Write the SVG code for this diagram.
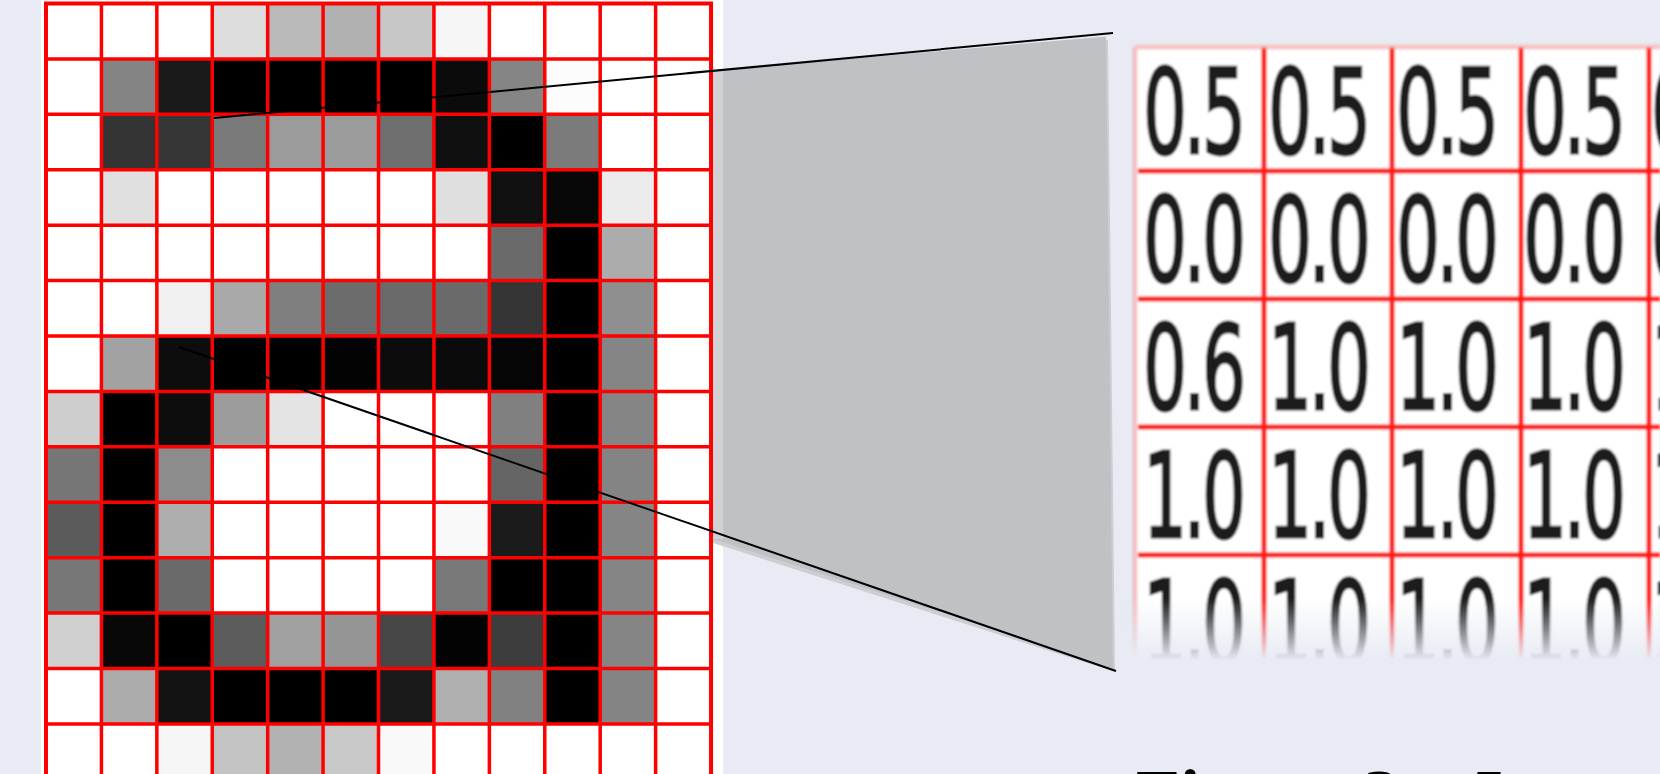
<svg xmlns="http://www.w3.org/2000/svg" width="1660" height="774" viewBox="0 0 1660 774">
<style>
.gl{stroke:#ff0000;stroke-width:3.5;fill:none}
.gb{stroke:#ff0000;stroke-width:4;fill:none}
.tl{stroke:#ff1c1c;stroke-width:5;fill:none}
.tf{stroke:#f4a0a0;stroke-width:5;fill:none;opacity:0.6}
.val{font-family:"DejaVu Sans","Liberation Sans",sans-serif;font-size:118px;letter-spacing:-6px;fill:#1a1a1a;stroke:#1a1a1a;stroke-width:3}
.edge{stroke:#000;stroke-width:2;fill:none}
.cap{font-family:"Liberation Serif","Times New Roman",serif;font-size:72px;font-weight:bold;fill:#000}
</style>
<defs>
<linearGradient id="fade" x1="0" y1="598" x2="0" y2="660" gradientUnits="userSpaceOnUse">
<stop offset="0" stop-color="#e8ebf3" stop-opacity="0"/>
<stop offset="1" stop-color="#e8ebf3" stop-opacity="1"/>
</linearGradient>
<filter id="soft" x="-5%" y="-5%" width="110%" height="110%"><feGaussianBlur stdDeviation="0.9"/></filter>
</defs>
<rect x="0" y="0" width="1660" height="774" fill="#e8ebf3"/>

<g id="pixel-grid">
<rect x="41" y="0" width="682" height="774" fill="#ffffff"/>
<g id="pixels">
<rect x="212.26" y="3.5" width="55.42" height="55.42" fill="#dcdcdc"/>
<rect x="267.68" y="3.5" width="55.42" height="55.42" fill="#b9b9b9"/>
<rect x="323.1" y="3.5" width="55.42" height="55.42" fill="#b1b1b1"/>
<rect x="378.52" y="3.5" width="55.42" height="55.42" fill="#c7c7c7"/>
<rect x="433.94" y="3.5" width="55.42" height="55.42" fill="#f6f6f6"/>

<rect x="101.42" y="58.92" width="55.42" height="55.42" fill="#848484"/>
<rect x="156.84" y="58.92" width="55.42" height="55.42" fill="#1a1a1a"/>
<rect x="212.26" y="58.92" width="55.42" height="55.42" fill="#000000"/>
<rect x="267.68" y="58.92" width="55.42" height="55.42" fill="#000000"/>
<rect x="323.1" y="58.92" width="55.42" height="55.42" fill="#000000"/>
<rect x="378.52" y="58.92" width="55.42" height="55.42" fill="#000000"/>
<rect x="433.94" y="58.92" width="55.42" height="55.42" fill="#0b0b0b"/>
<rect x="489.36" y="58.92" width="55.42" height="55.42" fill="#858585"/>
<rect x="544.78" y="58.92" width="55.42" height="55.42" fill="#fcfcfc"/>

<rect x="101.42" y="114.34" width="55.42" height="55.42" fill="#343434"/>
<rect x="156.84" y="114.34" width="55.42" height="55.42" fill="#363636"/>
<rect x="212.26" y="114.34" width="55.42" height="55.42" fill="#7a7a7a"/>
<rect x="267.68" y="114.34" width="55.42" height="55.42" fill="#9b9b9b"/>
<rect x="323.1" y="114.34" width="55.42" height="55.42" fill="#9b9b9b"/>
<rect x="378.52" y="114.34" width="55.42" height="55.42" fill="#6e6e6e"/>
<rect x="433.94" y="114.34" width="55.42" height="55.42" fill="#101010"/>
<rect x="489.36" y="114.34" width="55.42" height="55.42" fill="#000000"/>
<rect x="544.78" y="114.34" width="55.42" height="55.42" fill="#7b7b7b"/>

<rect x="101.42" y="169.76" width="55.42" height="55.42" fill="#e0e0e0"/>
<rect x="433.94" y="169.76" width="55.42" height="55.42" fill="#dfdfdf"/>
<rect x="489.36" y="169.76" width="55.42" height="55.42" fill="#111111"/>
<rect x="544.78" y="169.76" width="55.42" height="55.42" fill="#080808"/>
<rect x="600.2" y="169.76" width="55.42" height="55.42" fill="#ebebeb"/>

<rect x="489.36" y="225.18" width="55.42" height="55.42" fill="#6a6a6a"/>
<rect x="544.78" y="225.18" width="55.42" height="55.42" fill="#000000"/>
<rect x="600.2" y="225.18" width="55.42" height="55.42" fill="#acacac"/>

<rect x="156.84" y="280.6" width="55.42" height="55.42" fill="#f0f0f0"/>
<rect x="212.26" y="280.6" width="55.42" height="55.42" fill="#a9a9a9"/>
<rect x="267.68" y="280.6" width="55.42" height="55.42" fill="#7f7f7f"/>
<rect x="323.1" y="280.6" width="55.42" height="55.42" fill="#6c6c6c"/>
<rect x="378.52" y="280.6" width="55.42" height="55.42" fill="#6a6a6a"/>
<rect x="433.94" y="280.6" width="55.42" height="55.42" fill="#6a6a6a"/>
<rect x="489.36" y="280.6" width="55.42" height="55.42" fill="#353535"/>
<rect x="544.78" y="280.6" width="55.42" height="55.42" fill="#000000"/>
<rect x="600.2" y="280.6" width="55.42" height="55.42" fill="#8f8f8f"/>

<rect x="101.42" y="336.02" width="55.42" height="55.42" fill="#a2a2a2"/>
<rect x="156.84" y="336.02" width="55.42" height="55.42" fill="#0d0d0d"/>
<rect x="212.26" y="336.02" width="55.42" height="55.42" fill="#000000"/>
<rect x="267.68" y="336.02" width="55.42" height="55.42" fill="#000000"/>
<rect x="323.1" y="336.02" width="55.42" height="55.42" fill="#030303"/>
<rect x="378.52" y="336.02" width="55.42" height="55.42" fill="#0c0c0c"/>
<rect x="433.94" y="336.02" width="55.42" height="55.42" fill="#0b0b0b"/>
<rect x="489.36" y="336.02" width="55.42" height="55.42" fill="#050505"/>
<rect x="544.78" y="336.02" width="55.42" height="55.42" fill="#000000"/>
<rect x="600.2" y="336.02" width="55.42" height="55.42" fill="#858585"/>

<rect x="46" y="391.44" width="55.42" height="55.42" fill="#cecece"/>
<rect x="101.42" y="391.44" width="55.42" height="55.42" fill="#000000"/>
<rect x="156.84" y="391.44" width="55.42" height="55.42" fill="#0d0d0d"/>
<rect x="212.26" y="391.44" width="55.42" height="55.42" fill="#9c9c9c"/>
<rect x="267.68" y="391.44" width="55.42" height="55.42" fill="#e4e4e4"/>
<rect x="489.36" y="391.44" width="55.42" height="55.42" fill="#808080"/>
<rect x="544.78" y="391.44" width="55.42" height="55.42" fill="#000000"/>
<rect x="600.2" y="391.44" width="55.42" height="55.42" fill="#858585"/>

<rect x="46" y="446.86" width="55.42" height="55.42" fill="#767676"/>
<rect x="101.42" y="446.86" width="55.42" height="55.42" fill="#000000"/>
<rect x="156.84" y="446.86" width="55.42" height="55.42" fill="#8c8c8c"/>
<rect x="489.36" y="446.86" width="55.42" height="55.42" fill="#656565"/>
<rect x="544.78" y="446.86" width="55.42" height="55.42" fill="#000000"/>
<rect x="600.2" y="446.86" width="55.42" height="55.42" fill="#848484"/>

<rect x="46" y="502.28" width="55.42" height="55.42" fill="#5b5b5b"/>
<rect x="101.42" y="502.28" width="55.42" height="55.42" fill="#000000"/>
<rect x="156.84" y="502.28" width="55.42" height="55.42" fill="#aeaeae"/>
<rect x="433.94" y="502.28" width="55.42" height="55.42" fill="#f9f9f9"/>
<rect x="489.36" y="502.28" width="55.42" height="55.42" fill="#1b1b1b"/>
<rect x="544.78" y="502.28" width="55.42" height="55.42" fill="#000000"/>
<rect x="600.2" y="502.28" width="55.42" height="55.42" fill="#858585"/>

<rect x="46" y="557.7" width="55.42" height="55.42" fill="#777777"/>
<rect x="101.42" y="557.7" width="55.42" height="55.42" fill="#000000"/>
<rect x="156.84" y="557.7" width="55.42" height="55.42" fill="#6a6a6a"/>
<rect x="433.94" y="557.7" width="55.42" height="55.42" fill="#787878"/>
<rect x="489.36" y="557.7" width="55.42" height="55.42" fill="#000000"/>
<rect x="544.78" y="557.7" width="55.42" height="55.42" fill="#000000"/>
<rect x="600.2" y="557.7" width="55.42" height="55.42" fill="#858585"/>

<rect x="46" y="613.12" width="55.42" height="55.42" fill="#d0d0d0"/>
<rect x="101.42" y="613.12" width="55.42" height="55.42" fill="#080808"/>
<rect x="156.84" y="613.12" width="55.42" height="55.42" fill="#000000"/>
<rect x="212.26" y="613.12" width="55.42" height="55.42" fill="#5c5c5c"/>
<rect x="267.68" y="613.12" width="55.42" height="55.42" fill="#a0a0a0"/>
<rect x="323.1" y="613.12" width="55.42" height="55.42" fill="#959595"/>
<rect x="378.52" y="613.12" width="55.42" height="55.42" fill="#464646"/>
<rect x="433.94" y="613.12" width="55.42" height="55.42" fill="#030303"/>
<rect x="489.36" y="613.12" width="55.42" height="55.42" fill="#3d3d3d"/>
<rect x="544.78" y="613.12" width="55.42" height="55.42" fill="#000000"/>
<rect x="600.2" y="613.12" width="55.42" height="55.42" fill="#858585"/>

<rect x="101.42" y="668.54" width="55.42" height="55.42" fill="#acacac"/>
<rect x="156.84" y="668.54" width="55.42" height="55.42" fill="#131313"/>
<rect x="212.26" y="668.54" width="55.42" height="55.42" fill="#000000"/>
<rect x="267.68" y="668.54" width="55.42" height="55.42" fill="#000000"/>
<rect x="323.1" y="668.54" width="55.42" height="55.42" fill="#000000"/>
<rect x="378.52" y="668.54" width="55.42" height="55.42" fill="#1a1a1a"/>
<rect x="433.94" y="668.54" width="55.42" height="55.42" fill="#afafaf"/>
<rect x="489.36" y="668.54" width="55.42" height="55.42" fill="#818181"/>
<rect x="544.78" y="668.54" width="55.42" height="55.42" fill="#000000"/>
<rect x="600.2" y="668.54" width="55.42" height="55.42" fill="#848484"/>

<rect x="156.84" y="723.96" width="55.42" height="55.42" fill="#f6f6f6"/>
<rect x="212.26" y="723.96" width="55.42" height="55.42" fill="#c3c3c3"/>
<rect x="267.68" y="723.96" width="55.42" height="55.42" fill="#b2b2b2"/>
<rect x="323.1" y="723.96" width="55.42" height="55.42" fill="#c8c8c8"/>
<rect x="378.52" y="723.96" width="55.42" height="55.42" fill="#f9f9f9"/>
</g>
<g id="grid-lines">
<path class="gl" d="M101.42 3.5V774M156.84 3.5V774M212.26 3.5V774M267.68 3.5V774M323.1 3.5V774M378.52 3.5V774M433.94 3.5V774M489.36 3.5V774M544.78 3.5V774M600.2 3.5V774M655.62 3.5V774"/>
<path class="gl" d="M46 58.92H711.04M46 114.34H711.04M46 169.76H711.04M46 225.18H711.04M46 280.6H711.04M46 336.02H711.04M46 391.44H711.04M46 446.86H711.04M46 502.28H711.04M46 557.7H711.04M46 613.12H711.04M46 668.54H711.04M46 723.96H711.04"/>
<path class="gb" d="M46 774V3.5H711.04V774"/>
</g>
</g>

<g id="zoom-funnel">
<polygon points="713,74 1108,40 1115,672 713,543" fill="#cdced2"/>
<polygon points="713,70.7 1106,36.5 1113,668 713,539" fill="#c0c1c5"/>
<polygon points="713,70.7 723,69.8 723,539 713,539" fill="#d1d1d3"/>
</g>

<g id="value-table">
<g filter="url(#soft)">
<rect x="1135" y="45" width="525" height="620" fill="#ffffff"/>
<path class="tl" d="M1264 47V660M1392 47V660M1521 47V660M1649 47V660"/>
<path class="tl" d="M1138 171H1660M1138 299H1660M1138 427H1660M1138 555H1660"/>
<path class="tf" d="M1135 47V660M1135 47H1660"/>
<g id="values">
<text class="val" transform="translate(1143 153) scale(0.587 1)">0.5</text>
<text class="val" transform="translate(1268 153) scale(0.587 1)">0.5</text>
<text class="val" transform="translate(1396 153) scale(0.587 1)">0.5</text>
<text class="val" transform="translate(1523 153) scale(0.587 1)">0.5</text>
<text class="val" transform="translate(1651 153) scale(0.587 1)">0.5</text>
<text class="val" transform="translate(1143 281) scale(0.587 1)">0.0</text>
<text class="val" transform="translate(1268 281) scale(0.587 1)">0.0</text>
<text class="val" transform="translate(1396 281) scale(0.587 1)">0.0</text>
<text class="val" transform="translate(1523 281) scale(0.587 1)">0.0</text>
<text class="val" transform="translate(1651 281) scale(0.587 1)">0.0</text>
<text class="val" transform="translate(1143 409) scale(0.587 1)">0.6</text>
<text class="val" transform="translate(1268 409) scale(0.587 1)">1.0</text>
<text class="val" transform="translate(1396 409) scale(0.587 1)">1.0</text>
<text class="val" transform="translate(1523 409) scale(0.587 1)">1.0</text>
<text class="val" transform="translate(1651 409) scale(0.587 1)">1.0</text>
<text class="val" transform="translate(1143 537) scale(0.587 1)">1.0</text>
<text class="val" transform="translate(1268 537) scale(0.587 1)">1.0</text>
<text class="val" transform="translate(1396 537) scale(0.587 1)">1.0</text>
<text class="val" transform="translate(1523 537) scale(0.587 1)">1.0</text>
<text class="val" transform="translate(1651 537) scale(0.587 1)">1.0</text>
<text class="val" transform="translate(1143 665) scale(0.587 1)">1.0</text>
<text class="val" transform="translate(1268 665) scale(0.587 1)">1.0</text>
<text class="val" transform="translate(1396 665) scale(0.587 1)">1.0</text>
<text class="val" transform="translate(1523 665) scale(0.587 1)">1.0</text>
<text class="val" transform="translate(1651 665) scale(0.587 1)">1.0</text>
</g>
</g>
<rect x="1120" y="596" width="540" height="80" fill="url(#fade)"/>
</g>

<g id="connectors">
<line class="edge" x1="214" y1="118" x2="1113" y2="33"/>
<line class="edge" x1="179" y1="347" x2="1116" y2="671"/>
</g>

<g id="caption">
<text class="cap" y="819"><tspan x="1136">Figure</tspan><tspan x="1364">3:</tspan><tspan x="1475">I</tspan></text>
</g>
</svg>
